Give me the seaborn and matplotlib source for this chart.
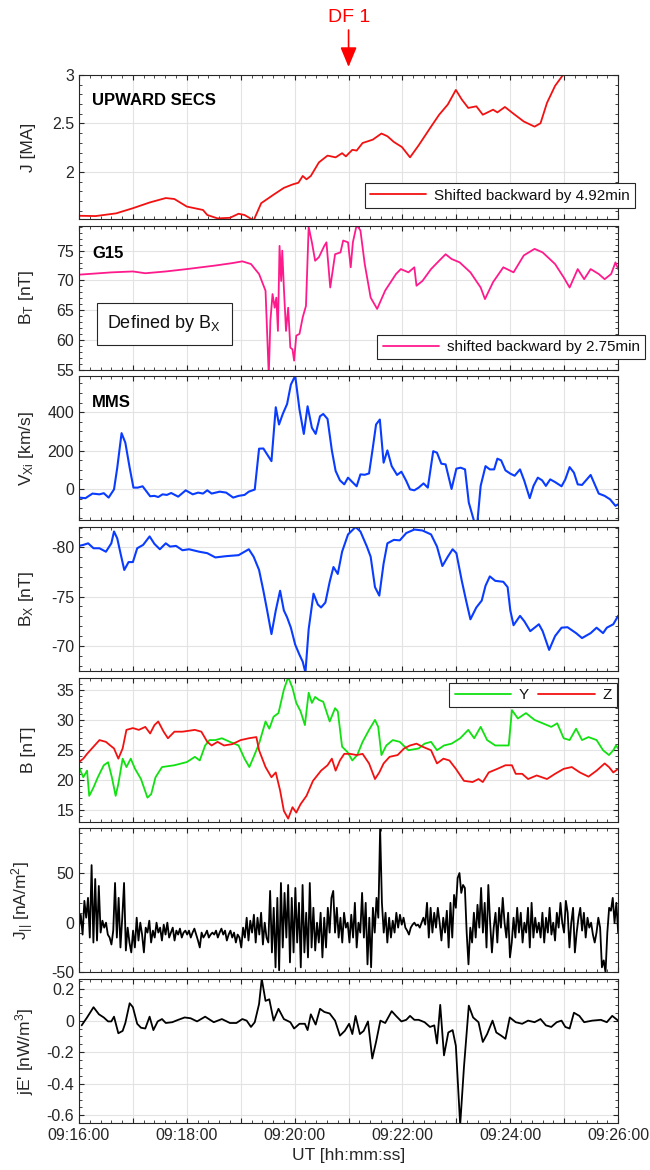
import numpy as np
import pandas as pd
import matplotlib
matplotlib.use("Agg")
import matplotlib.pyplot as plt
from matplotlib.ticker import MultipleLocator, FuncFormatter
import seaborn as sns

# ---------------- data (time in minutes after 09:16:00) ----------------
secs_t = [0.00,0.31,0.69,1.00,1.31,1.61,1.77,2.00,2.30,2.38,2.57,2.80,2.96,3.07,3.24,3.38,3.61,3.80,3.96,4.07,
          4.15,4.22,4.30,4.45,4.61,4.76,4.88,4.95,5.07,5.15,5.26,5.45,5.61,5.72,5.84,5.99,6.14,6.30,6.53,6.68,
          6.84,6.99,7.10,7.22,7.37,7.49,7.68,7.76,7.90,8.06,8.25,8.45,8.56,8.68,8.83,8.99]
secs_j = [1.547,1.544,1.572,1.625,1.684,1.73,1.72,1.642,1.607,1.555,1.52,1.526,1.568,1.555,1.50,1.677,1.765,1.835,1.87,1.888,
          1.958,1.923,1.958,2.098,2.168,2.15,2.193,2.16,2.228,2.22,2.298,2.333,2.396,2.368,2.309,2.256,2.15,2.274,2.467,2.59,
          2.695,2.846,2.747,2.66,2.677,2.59,2.642,2.614,2.67,2.6,2.52,2.467,2.502,2.712,2.888,3.01]

g15_t = [0.00,0.61,1.00,1.23,1.61,2.00,2.53,2.84,3.03,3.19,3.34,3.46,3.52,3.55,3.59,3.63,3.66,3.69,3.72,3.75,
         3.77,3.80,3.84,3.88,3.92,3.96,3.99,4.03,4.09,4.15,4.21,4.26,4.32,4.38,4.45,4.55,4.59,4.66,4.75,4.85,
         4.90,4.99,5.04,5.08,5.15,5.22,5.30,5.41,5.53,5.68,5.88,5.97,6.11,6.22,6.26,6.37,6.53,6.68,6.80,6.91,
         7.06,7.26,7.45,7.53,7.68,7.87,8.06,8.25,8.45,8.60,8.83,8.99,9.10,9.25,9.37,9.49,9.64,9.75,9.87,9.95,10.00]
g15_bt = [70.96,71.35,71.5,71.2,71.5,71.9,72.5,72.9,73.2,72.75,71.07,68.26,54.0,63.2,67.7,65.4,67.1,61.5,75.8,69.9,
          75.0,68.8,61.5,65.4,58.7,58.4,56.5,60.7,61.0,63.8,65.7,79.0,76.4,73.3,73.9,75.8,76.4,68.8,74.4,74.7,
          76.7,76.4,72.2,76.4,79.3,78.4,72.75,67.1,65.2,68.3,71.07,71.9,71.35,72.2,69.1,69.9,71.9,73.3,74.4,73.6,
          73.03,71.35,68.8,66.85,69.7,72.2,71.35,74.2,75.3,74.7,72.75,70.5,68.8,71.9,70.2,71.9,71.07,70.2,71.07,73.03,71.9]

vx_t = [0.00,0.12,0.25,0.38,0.46,0.55,0.65,0.71,0.79,0.86,0.94,1.01,1.09,1.18,1.32,1.40,1.47,1.55,1.63,1.71,
        1.84,1.98,2.11,2.21,2.30,2.38,2.46,2.61,2.73,2.86,2.96,3.07,3.15,3.26,3.34,3.42,3.57,3.65,3.71,3.78,
        3.86,3.93,4.01,4.09,4.17,4.24,4.32,4.39,4.47,4.53,4.61,4.69,4.76,4.84,4.92,4.99,5.07,5.15,5.22,5.30,
        5.38,5.45,5.51,5.58,5.65,5.72,5.80,5.90,5.98,6.07,6.14,6.22,6.30,6.39,6.47,6.57,6.64,6.72,6.80,6.91,
        7.00,7.08,7.16,7.23,7.33,7.39,7.45,7.54,7.62,7.70,7.76,7.83,7.91,8.00,8.08,8.18,8.26,8.36,8.43,8.51,
        8.59,8.66,8.74,8.83,8.95,9.02,9.10,9.18,9.25,9.33,9.49,9.64,9.75,9.85,9.95,10.00]
vx_v = [-45,-48,-24,-28,-22,-45,-2,111,291,241,111,7,7,14,-38,-36,-42,-28,-31,-21,
        -40,-7,-28,-19,-24,-7,-24,-14,-19,-45,-36,-31,-14,-3,210,211,145,426,336,391,
        443,544,590,414,287,431,319,287,379,391,365,201,94,45,24,59,36,14,76,74,
        81,215,336,362,137,201,119,73,90,42,-2,-7,7,29,7,197,189,132,128,0,
        106,111,102,-71,-170,-170,16,119,102,102,158,149,97,80,69,102,42,-48,16,59,
        45,16,50,36,14,50,114,85,24,21,73,-24,-36,-54,-88,-80]

bx_t = [0.00,0.08,0.17,0.27,0.38,0.50,0.60,0.65,0.71,0.77,0.84,0.92,1.00,1.08,1.19,1.31,1.40,1.50,1.61,1.69,
        1.80,1.92,2.04,2.23,2.38,2.53,2.73,2.96,3.15,3.24,3.34,3.42,3.49,3.57,3.65,3.73,3.80,3.86,3.93,4.01,
        4.09,4.15,4.20,4.26,4.35,4.43,4.49,4.57,4.65,4.72,4.80,4.88,4.99,5.13,5.22,5.34,5.41,5.49,5.57,5.65,
        5.72,5.84,5.95,6.07,6.22,6.37,6.53,6.64,6.74,6.84,6.93,7.00,7.10,7.18,7.26,7.37,7.47,7.54,7.62,7.72,
        7.87,7.95,8.00,8.06,8.18,8.26,8.37,8.53,8.60,8.72,8.83,8.95,9.06,9.22,9.33,9.49,9.60,9.72,9.79,9.91,10.00]
bx_v = [-80.14,-80.24,-80.4,-79.9,-79.9,-79.55,-80.4,-81.6,-80.9,-79.4,-77.7,-78.5,-78.5,-79.9,-80.24,-81.1,-80.34,-79.8,-80.4,-80.07,
        -80.14,-79.7,-79.8,-79.55,-79.4,-78.97,-79.1,-79.2,-79.8,-79.04,-77.7,-75.6,-73.6,-71.2,-73.6,-75.6,-73.6,-72.9,-71.85,-70.14,
        -69.1,-68.4,-67.3,-71.7,-75.3,-74.2,-73.9,-74.4,-76.5,-78.0,-77.3,-79.55,-81.3,-82.05,-81.6,-80.07,-79.04,-75.96,-75.1,-78.36,
        -80.4,-80.75,-80.7,-81.44,-81.8,-81.7,-81.3,-80.07,-78.1,-79.04,-79.8,-79.4,-76.6,-74.6,-72.7,-73.9,-74.6,-76.1,-77.05,-76.6,
        -76.5,-75.96,-73.6,-72.1,-73.05,-72.5,-71.5,-72.2,-71.5,-69.6,-71.0,-71.85,-71.9,-71.3,-70.8,-71.3,-71.85,-71.3,-71.85,-72.2,-73.05]

by_t = [0.00,0.08,0.15,0.19,0.27,0.35,0.46,0.54,0.61,0.68,0.73,0.81,0.88,0.96,1.04,1.15,1.27,1.34,1.42,1.54,
        1.77,2.00,2.15,2.24,2.34,2.42,2.53,2.65,2.80,2.96,3.07,3.16,3.24,3.34,3.46,3.53,3.61,3.70,3.80,3.88,
        3.96,4.03,4.11,4.19,4.26,4.32,4.38,4.45,4.53,4.65,4.75,4.80,4.88,4.98,5.07,5.16,5.26,5.38,5.49,5.55,
        5.61,5.70,5.82,5.95,6.11,6.30,6.41,6.53,6.64,6.77,6.91,7.07,7.22,7.33,7.45,7.57,7.72,7.87,7.97,8.03,
        8.14,8.29,8.45,8.60,8.76,8.87,8.99,9.10,9.22,9.33,9.45,9.60,9.72,9.83,9.91,9.96,10.00]
by_v = [22.2,20.5,21.6,17.4,18.8,20.5,22.5,23.0,20.5,17.4,19.4,23.6,22.2,23.6,21.9,20.2,17.1,17.7,20.5,22.2,
        22.5,23.03,23.9,23.3,25.8,26.7,26.7,27.0,26.4,25.8,23.6,22.2,23.9,26.1,29.8,28.6,30.6,31.2,35.1,37.2,
        35.4,32.9,31.5,29.2,34.6,32.9,33.9,33.4,33.1,29.8,32.02,31.5,25.6,24.7,23.3,24.2,26.4,28.4,30.06,28.9,
        24.2,25.8,26.7,26.4,25.0,25.3,26.1,26.4,25.0,25.8,26.1,27.0,28.4,27.0,28.9,26.7,25.8,25.8,25.8,31.7,
        30.3,31.2,30.06,29.5,28.9,29.5,27.0,26.7,28.6,26.7,27.2,26.7,25.0,24.2,25.0,25.8,25.3]

bz_t = [0.00,0.08,0.15,0.27,0.38,0.50,0.58,0.65,0.73,0.81,0.88,1.00,1.11,1.23,1.32,1.40,1.47,1.57,1.65,1.77,
        1.92,2.15,2.27,2.38,2.46,2.57,2.69,2.84,3.00,3.15,3.29,3.34,3.46,3.57,3.65,3.73,3.80,3.88,3.96,4.03,
        4.11,4.22,4.34,4.42,4.49,4.61,4.69,4.76,4.84,4.92,5.03,5.15,5.26,5.38,5.49,5.57,5.65,5.76,5.91,6.03,
        6.14,6.26,6.37,6.53,6.64,6.76,6.87,6.99,7.14,7.30,7.41,7.49,7.60,7.76,7.91,8.03,8.10,8.22,8.33,8.49,
        8.68,8.83,8.99,9.14,9.29,9.45,9.60,9.75,9.83,9.91,10.00]
bz_v = [23.03,23.6,24.4,25.6,26.7,26.4,25.8,25.3,23.6,25.3,28.4,28.7,28.4,28.9,27.8,29.2,29.8,28.1,27.0,28.1,
        28.1,28.4,28.1,26.4,25.8,26.4,25.8,26.01,26.7,27.0,27.2,25.0,22.2,20.5,21.3,18.3,14.9,13.6,15.5,14.6,
        16.01,17.4,19.9,20.8,21.6,22.5,23.6,21.6,23.3,24.4,24.4,24.2,24.4,22.8,20.2,21.3,22.8,23.9,24.2,25.3,
        25.8,26.1,25.6,25.0,22.8,23.6,23.3,21.9,19.9,19.7,20.2,19.7,21.3,21.9,22.5,22.5,21.07,21.07,20.2,20.8,
        20.2,21.07,21.9,22.2,21.3,20.6,21.6,22.8,22.2,21.3,21.9]

jpar_v = [-5, 8, -12, 22, 5, 25, -15, 58, -20, 44, -18, 37, -10, 2, -5,
          0, -12, -15, -22, -8, 40, -15, 25, -25, 5, 40, -28, -5, -20, -30,
          -8, -25, 5, -18, 0, -12, -30, -5, -10, 2, -20, -8, -15, 0, -10,
          -5, -18, -2, -12, 0, -15, -10, -5, -18, -8, -12, -6, -15, -10, -8,
          -12, -8, -15, -10, -6, -12, -18, -25, -10, -15, -12, -8, -15, -12, -10,
          -12, -8, -15, -10, -6, -12, -8, -18, -12, -8, -15, -10, -20, -12, -15,
          -25, -5, -15, 5, -18, 2, -10, 8, -20, 5, -12, 10, -22, 0, -15,
          -20, 32, -30, 15, -45, 25, -48, 40, -25, 30, -15, 38, -40, 25, -30,
          35, -20, 20, -45, 38, -30, 10, -35, 40, -25, 15, -28, 0, -20, 10,
          -35, 5, -25, 15, -10, 25, 32, -10, 15, -15, 5, -20, 10, -5, 0,
          -20, 8, -15, 20, -25, 0, -10, 30, -15, 20, -42, 5, -45, 15, -10,
          25, 5, 95, 20, -10, 10, -20, 5, -15, 2, -10, 10, -5, 8, -2,
          5, -5, -8, -12, -5, -2, 0, -3, -2, -5, 0, 5, -2, 20, -15,
          15, -10, 10, -5, 15, 0, -18, 5, -10, 12, -25, 20, -15, 28, 15,
          45, 50, 30, 38, 35, -10, -42, -5, -20, 10, -15, 18, -5, 35, -10,
          20, -25, 38, 0, -30, -5, 10, -20, 15, -5, 25, 0, -15, 10, -35,
          -20, 5, -15, 15, -10, 10, -20, 0, -10, 15, -25, 20, -15, 5, -10,
          0, -15, 10, -20, 5, -10, 15, -12, 0, -18, 10, -5, 20, 0, -10,
          22, 10, -25, 0, 15, -30, -10, 5, 15, -8, 10, -15, 5, -5, 0,
          -12, -20, -10, 5, -5, -45, -38, -50, -10, 15, 12, 25, 0, 20, -10]
jpar_t = np.linspace(0, 10, len(jpar_v))

je_t = [0.05,0.15,0.27,0.37,0.46,0.54,0.60,0.65,0.73,0.81,0.86,0.94,1.00,1.08,1.15,1.23,1.31,1.38,1.46,1.54,
        1.61,1.73,1.84,1.96,2.07,2.19,2.34,2.50,2.65,2.80,2.92,3.03,3.11,3.19,3.26,3.34,3.39,3.46,3.53,3.61,
        3.70,3.80,3.92,3.99,4.09,4.19,4.24,4.30,4.39,4.47,4.55,4.65,4.75,4.84,4.93,5.01,5.07,5.13,5.21,5.28,
        5.36,5.44,5.51,5.59,5.68,5.80,5.88,5.98,6.07,6.14,6.22,6.30,6.41,6.51,6.59,6.64,6.70,6.77,6.85,6.93,
        6.99,7.07,7.14,7.23,7.31,7.41,7.49,7.57,7.67,7.74,7.83,7.91,7.99,8.10,8.22,8.33,8.45,8.56,8.66,8.76,
        8.86,8.95,9.02,9.10,9.18,9.28,9.37,9.52,9.68,9.79,9.89,10.00]
je_v = [-0.03,0.02,0.085,0.04,0.02,-0.005,-0.005,0.025,-0.08,-0.065,-0.015,0.11,0.085,-0.02,-0.045,-0.05,0.025,-0.06,-0.005,0.01,
        -0.015,-0.01,0.005,0.02,0.015,-0.005,0.025,-0.01,0.01,-0.015,-0.015,0.01,0.0,-0.04,-0.01,0.105,0.265,0.125,0.135,0.0,
        0.075,0.01,-0.01,-0.05,-0.02,-0.02,-0.06,0.04,-0.025,0.075,0.055,0.045,0.0,-0.095,-0.065,-0.02,-0.085,0.03,-0.085,-0.065,
        -0.005,-0.24,-0.135,0.0,-0.015,0.06,0.03,-0.005,0.005,0.03,0.005,0.005,-0.01,-0.04,-0.03,-0.145,0.1,-0.22,-0.075,-0.06,
        -0.16,-0.66,-0.295,0.095,0.02,-0.01,-0.135,-0.085,0.0,-0.075,-0.095,-0.115,0.02,-0.01,-0.02,0.0,-0.01,0.01,-0.03,-0.04,
        -0.01,0.0,-0.04,-0.05,0.05,0.03,-0.01,0.0,0.005,-0.01,0.03,0.0]

# ---------------- style ----------------
sns.set_theme(style="ticks")
plt.rcParams['font.family'] = ['Liberation Sans', 'DejaVu Sans']
plt.rcParams['mathtext.fontset'] = 'custom'
plt.rcParams['mathtext.rm'] = 'Liberation Sans'
plt.rcParams['mathtext.it'] = 'Liberation Sans:italic'
plt.rcParams['mathtext.bf'] = 'Liberation Sans:bold'
plt.rcParams['axes.unicode_minus'] = False

INK = '#262626'
fig = plt.figure(figsize=(6.5, 11.7), dpi=100)
gs = fig.add_gridspec(7, 1, left=0.1215, right=0.951, top=0.9359, bottom=0.0402, hspace=0.0473)
axes = [fig.add_subplot(gs[i]) for i in range(7)]


def style(ax, ylim, major, minor, ylabel):
    ax.set_xlim(0, 10)
    ax.set_ylim(*ylim)
    ax.xaxis.set_major_locator(MultipleLocator(1))
    ax.xaxis.set_minor_locator(MultipleLocator(0.2))
    ax.yaxis.set_major_locator(MultipleLocator(major))
    ax.yaxis.set_minor_locator(MultipleLocator(minor))
    ax.yaxis.set_major_formatter(FuncFormatter(lambda v, p: '%g' % (round(v, 6) + 0.0)))
    ax.tick_params(which='both', direction='in', top=True, right=True, color=INK,
                   labelcolor=INK, labelsize=11.5)
    ax.tick_params(which='major', length=3.5, width=0.8)
    ax.tick_params(which='minor', length=2.0, width=0.6)
    ax.grid(True, which='major', color='#e3e3e3', lw=0.8)
    ax.set_axisbelow(True)
    for s in ax.spines.values():
        s.set_color(INK)
        s.set_linewidth(0.8)
    ax.set_ylabel(ylabel, fontsize=12.5, color=INK)
    ax.yaxis.set_label_coords(-0.08, 0.5)
    ax.set_xlabel('')


def xfmt(v, p):
    m = int(round(v))
    return '09:%02d:00' % (16 + m) if m % 2 == 0 else ''


def leg(ax, anchor, loc, ncol=1):
    L = ax.legend(loc=loc, bbox_to_anchor=anchor, borderaxespad=0, fancybox=False,
                  edgecolor=INK, framealpha=1, fontsize=11, handlelength=3.7,
                  handletextpad=0.5, borderpad=0.35, ncol=ncol, columnspacing=0.6)
    L.get_frame().set_linewidth(0.8)
    for t in L.get_texts():
        t.set_color('#111111')
    return L

# Panel 1
ax = axes[0]
sns.lineplot(x=secs_t, y=secs_j, ax=ax, color='#f21111', lw=1.3, estimator=None, sort=False,
             label='Shifted backward by 4.92min')
style(ax, (1.515, 3.0), 0.5, 0.1, 'J [MA]')
leg(ax, (1.0315, 0.076), 'lower right')
ax.text(0.024, 0.826, 'UPWARD SECS', transform=ax.transAxes, fontweight='bold', fontsize=12,
        va='center', color='black')
ax.annotate('', xy=(5.0, 1.056), xycoords=('data', 'axes fraction'),
            xytext=(5.0, 1.3125), textcoords=('data', 'axes fraction'),
            arrowprops=dict(arrowstyle='-|>,head_length=1.2,head_width=0.5', color='red', lw=1.2,
                            shrinkA=0, shrinkB=0, mutation_scale=10),
            annotation_clip=False)
fig.text(349 / 650, 1 - 17 / 1170, 'DF 1', color='red', fontsize=14, ha='center', va='center')

# Panel 2
ax = axes[1]
sns.lineplot(x=g15_t, y=g15_bt, ax=ax, color='#ff1a8c', lw=1.3, estimator=None, sort=False,
             label='shifted backward by 2.75min')
style(ax, (55, 79.2), 5, 1, r'B$_\mathregular{T}$ [nT]')
leg(ax, (1.05, 0.072), 'lower right')
ax.text(0.024, 0.81, 'G15', transform=ax.transAxes, fontweight='bold', fontsize=12,
        va='center', color='black')
ax.text(0.158, 0.317, r'Defined by B$_\mathregular{X}$', transform=ax.transAxes, fontsize=13,
        ha='center', va='center', color='#111111',
        bbox=dict(boxstyle='square,pad=0.6', fc='white', ec=INK, lw=0.8))

# Panel 3
ax = axes[2]
sns.lineplot(x=vx_t, y=vx_v, ax=ax, color='#0a3cff', lw=1.5, estimator=None, sort=False)
style(ax, (-163, 587), 200, 50, r'V$_\mathregular{Xi}$ [km/s]')
ax.text(0.024, 0.818, 'MMS', transform=ax.transAxes, fontweight='bold', fontsize=12,
        va='center', color='black')

# Panel 4
ax = axes[3]
sns.lineplot(x=bx_t, y=bx_v, ax=ax, color='#0a3cff', lw=1.5, estimator=None, sort=False)
style(ax, (-67.47, -82.05), 5, 1, r'B$_\mathregular{X}$ [nT]')

# Panel 5
ax = axes[4]
sns.lineplot(x=by_t, y=by_v, ax=ax, color='#11e011', lw=1.3, estimator=None, sort=False, label='Y')
sns.lineplot(x=bz_t, y=bz_v, ax=ax, color='#f21111', lw=1.3, estimator=None, sort=False, label='Z')
style(ax, (13.1, 37.1), 5, 1, 'B [nT]')
leg(ax, (0.998, 0.965), 'upper right', ncol=2)

# Panel 6
ax = axes[5]
sns.lineplot(x=jpar_t, y=jpar_v, ax=ax, color='black', lw=1.3, estimator=None, sort=False)
style(ax, (-50, 95), 50, 10, r'J$_{\mathregular{||}}$ [nA/m$^{\mathregular{2}}$]')

# Panel 7
ax = axes[6]
sns.lineplot(x=je_t, y=je_v, ax=ax, color='black', lw=1.3, estimator=None, sort=False)
style(ax, (-0.648, 0.263), 0.2, 0.05, r"jE' [nW/m$^{\mathregular{3}}$]")

for i, ax in enumerate(axes):
    if i < 6:
        ax.tick_params(labelbottom=False)
    else:
        ax.xaxis.set_major_formatter(FuncFormatter(xfmt))
        ax.set_xlabel('UT [hh:mm:ss]', fontsize=12.5, color=INK)

fig.savefig('out.png', dpi=100)
